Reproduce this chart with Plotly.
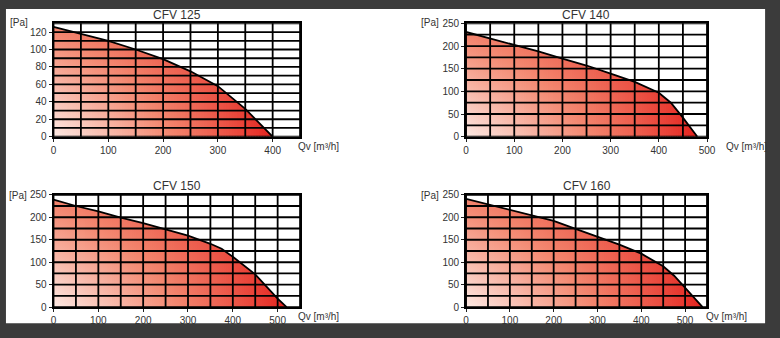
import plotly.graph_objects as go

# ---------------- data ----------------
TITLES = ["CFV 125", "CFV 140", "CFV 150", "CFV 160"]

Q125 = [0, 50, 100, 150, 200, 250, 300, 350, 400]
P125 = [126, 118, 110, 100, 89, 75, 58, 32, 0]

Q140 = [0, 50, 100, 150, 200, 250, 300, 350, 400, 425, 450, 480]
P140 = [231, 217, 203, 188, 172, 157, 139, 121, 97, 75, 42, 0]

Q150 = [0, 50, 100, 150, 200, 250, 300, 350, 375, 400, 450, 500, 520]
P150 = [239, 225, 213, 199, 187, 173, 159, 141, 130, 112, 73, 19, 0]

Q160 = [0, 50, 100, 150, 200, 250, 300, 350, 400, 450, 475, 500, 540]
P160 = [241, 229, 217, 205, 192, 174, 157, 139, 119, 91, 70, 44, 0]

X_RANGE = [450, 500, 550, 550]
Y_RANGE = [130, 250, 250, 250]
X_GRID_STEP = [50, 50, 50, 50]
Y_GRID_STEP = [10, 25, 25, 25]
X_TICKS = [
    [0, 100, 200, 300, 400],
    [0, 100, 200, 300, 400, 500],
    [0, 100, 200, 300, 400, 500],
    [0, 100, 200, 300, 400, 500],
]
Y_TICKS = [
    [0, 20, 40, 60, 80, 100, 120],
    [0, 50, 100, 150, 200, 250],
    [0, 50, 100, 150, 200, 250],
    [0, 50, 100, 150, 200, 250],
]
X_LABEL = "Qv [m³/h]"
Y_LABEL = "[Pa]"

SERIES = [(Q125, P125), (Q140, P140), (Q150, P150), (Q160, P160)]

# ---------------- layout geometry (pixels in 780x338) ----------------
W, H = 780, 338
X_DOM_PX = [(51.3, 301.7), (470.3, 715.0), (51.3, 301.7), (470.3, 715.0)]
Y_DOM_PX = [(18.0, 135.5), (18.0, 135.5), (195.7, 312.3), (195.7, 312.3)]
TITLE_POS = [(176.5, 9.0), (592.5, 9.0), (176.8, 186.7), (593.0, 186.7)]
YLAB_POS = [(5.0, 17.5), (423.0, 17.5), (4.0, 196.0), (423.0, 196.0)]
XLAB_POS = [(298.0, 145.7), (732.5, 145.7), (297.7, 321.7), (711.7, 321.7)]

FONT = "Liberation Sans, Arial, sans-serif"
TXT = "#333333"
SHADE_STEP = 5  # width (in m³/h) of the colour slices used to paint the fill

# colour ramp (paleness 0 -> deep red, 1 -> almost white)
RAMP = [(0.0, (228, 32, 28)), (0.5, (243, 136, 112)), (1.0, (254, 244, 240))]


def ramp(p):
    p = max(0.0, min(1.0, p))
    for (p0, c0), (p1, c1) in zip(RAMP[:-1], RAMP[1:]):
        if p <= p1:
            t = (p - p0) / (p1 - p0)
            return "rgb(%d,%d,%d)" % tuple(round(a + (b - a) * t) for a, b in zip(c0, c1))
    return "rgb(%d,%d,%d)" % RAMP[-1][1]


def paleness(u, v):
    return 0.97 * (1 - u) ** 0.85 * (1 - 0.52 * v)


def curve_at(qs, ps, x):
    for (x0, y0), (x1, y1) in zip(zip(qs[:-1], ps[:-1]), zip(qs[1:], ps[1:])):
        if x0 <= x <= x1:
            return y0 + (y1 - y0) * (x - x0) / (x1 - x0)
    return ps[-1]


fig = go.Figure()

for i, (qs, ps) in enumerate(SERIES):
    ax = "" if i == 0 else str(i + 1)
    xr, yr = "x" + ax, "y" + ax
    qend = qs[-1]
    a = 0.0
    while a < qend - 1e-9:
        b = min(a + SHADE_STEP, qend)
        bo = min(b + SHADE_STEP * 0.6, qend)  # small overlap to avoid seams
        inner = [(q, p) for q, p in zip(qs, ps) if a < q < bo]
        xs = [a, a] + [q for q, _ in inner] + [bo, bo]
        ys = [0, curve_at(qs, ps, a)] + [p for _, p in inner] + [curve_at(qs, ps, bo), 0]
        u = (a + b) / 2 / qend
        cs = [[v, ramp(paleness(u, v))] for v in (0, 0.25, 0.5, 0.75, 1.0)]
        fig.add_trace(go.Scatter(
            x=xs, y=ys, xaxis=xr, yaxis=yr, mode="lines", fill="toself",
            line=dict(width=0), hoverinfo="skip", showlegend=False,
            fillgradient=dict(type="vertical", colorscale=cs, start=0, stop=ps[0]),
        ))
        a = b
    fig.add_trace(go.Scatter(
        x=qs, y=ps, xaxis=xr, yaxis=yr, mode="lines",
        line=dict(color="black", width=1.8), showlegend=False, hoverinfo="skip",
    ))

layout = dict(
    width=W, height=H, margin=dict(l=0, r=0, t=0, b=0),
    paper_bgcolor="#3b3b3b", plot_bgcolor="white", showlegend=False,
    font=dict(family=FONT, size=10, color=TXT),
)
shapes = [dict(type="rect", xref="paper", yref="paper", x0=3 / W, x1=774 / W,
               y0=1 - 329 / H, y1=1 - 3 / H, fillcolor="white",
               line=dict(width=0), layer="below")]
annotations = []

for i in range(4):
    ax = "" if i == 0 else str(i + 1)
    xd = [X_DOM_PX[i][0] / W, X_DOM_PX[i][1] / W]
    yd = [1 - Y_DOM_PX[i][1] / H, 1 - Y_DOM_PX[i][0] / H]
    common = dict(showline=True, mirror=True, linecolor="black", linewidth=1.8,
                  showgrid=False, zeroline=False, ticks="outside", ticklen=3,
                  tickwidth=1, tickcolor="#222222",
                  tickfont=dict(family=FONT, size=10, color=TXT), fixedrange=True)
    layout["xaxis" + ax] = dict(domain=xd, range=[0, X_RANGE[i]], anchor="y" + ax,
                                tickmode="array", tickvals=X_TICKS[i], **common)
    layout["yaxis" + ax] = dict(domain=yd, range=[0, Y_RANGE[i]], anchor="x" + ax,
                                tickmode="array", tickvals=Y_TICKS[i], **common)
    # grid drawn above the filled area
    gx = list(range(0, X_RANGE[i] + 1, X_GRID_STEP[i]))
    gy = list(range(0, Y_RANGE[i] + 1, Y_GRID_STEP[i]))
    for g in gx:
        shapes.append(dict(type="line", xref="x" + ax, yref="y" + ax + " domain",
                           x0=g, x1=g, y0=0, y1=1, layer="above",
                           line=dict(color="black", width=1.8)))
    for g in gy:
        shapes.append(dict(type="line", xref="x" + ax + " domain", yref="y" + ax,
                           x0=0, x1=1, y0=g, y1=g, layer="above",
                           line=dict(color="black", width=1.8)))
    tx, ty = TITLE_POS[i]
    annotations.append(dict(text=TITLES[i], x=tx / W, y=1 - ty / H, xref="paper",
                            yref="paper", xanchor="center", yanchor="middle",
                            showarrow=False, font=dict(family=FONT, size=12, color=TXT)))
    lx, ly = YLAB_POS[i]
    annotations.append(dict(text=Y_LABEL, x=lx / W, y=1 - ly / H, xref="paper",
                            yref="paper", xanchor="left", yanchor="middle",
                            showarrow=False, font=dict(family=FONT, size=10, color=TXT)))
    qx, qy = XLAB_POS[i]
    annotations.append(dict(text=X_LABEL, x=qx / W, y=1 - qy / H, xref="paper",
                            yref="paper", xanchor="left", yanchor="middle",
                            showarrow=False, font=dict(family=FONT, size=10, color=TXT)))

layout["shapes"] = shapes
layout["annotations"] = annotations
fig.update_layout(**layout)
fig.write_html("out.html")
